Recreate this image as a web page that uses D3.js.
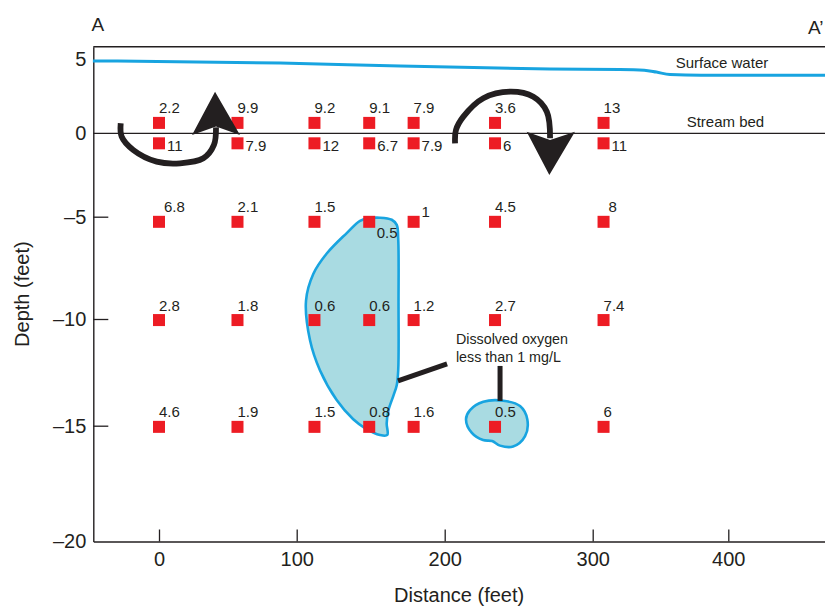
<!DOCTYPE html>
<html>
<head>
<meta charset="utf-8">
<script src="https://cdn.jsdelivr.net/npm/d3@7"></script>
<style>
  body { margin: 0; background: #fff; }
  svg { display: block; font-family: "Liberation Sans", Arial, Helvetica, sans-serif; }
</style>
</head>
<body>
<svg id="chart" width="825" height="607"></svg>
<script>
// tick labels
var distanceTicks = [0, 100, 200, 300, 400];
var depthTicks = [5, 0, -5, -10, -15, -20];

// sampling grid (feet)
var distances = [0, 57, 112, 149, 179, 234, 308];
var depths = [0.7, -0.6, -5.25, -10.05, -15.05];

// dissolved oxygen, mg/L, one row per depth
var oxygen = [
    [2.2, 9.9, 9.2, 9.1, 7.9, 3.6, 13],
    [11, 7.9, 12, 6.7, 7.9, 6, 11],
    [6.8, 2.1, 1.5, 0.5, 1, 4.5, 8],
    [2.8, 1.8, 0.6, 0.6, 1.2, 2.7, 7.4],
    [4.6, 1.9, 1.5, 0.8, 1.6, 0.5, 6]
];

// water surface profile [distance, elevation]
var surfaceWater = [[-48, 4.87], [88, 4.73], [170, 4.53], [271, 4.33], [320, 4.3], [338, 4.25],
    [347, 4.12], [357, 3.95], [380, 3.9], [472, 3.9]];

// zones with dissolved oxygen < 1 mg/L [distance, depth]
var lowOxygenZone1 = [[168.6, -6.1], [168.8, -9.2], [168.6, -12.4], [167.6, -13.1], [165.3, -13.6],
    [161.9, -14.3], [160.8, -14.9], [161.2, -15.4], [156.3, -15.4], [146.1, -15.1], [138.2, -14.7],
    [127, -13.8], [115.7, -12.4], [109, -11], [106.3, -9.1], [111.2, -7.8], [120.3, -6.8],
    [133.8, -5.8], [142.8, -5.2], [148.4, -5.08], [156.3, -5.05], [164.2, -5.15], [167.6, -5.4]];
var lowOxygenZone2 = [[214.4, -14.7], [218.2, -15.3], [225.9, -15.62], [232, -15.66], [237.4, -15.86],
    [246.2, -15.9], [254.3, -15.45], [255.8, -14.7], [250.9, -14.08], [239.6, -13.83], [226.1, -13.88],
    [217.1, -14.27]];

// flow arrows [distance, depth]
var upflowPath = [[-27.8, 0.67], [-27.1, -0.2], [-18.7, -1.0], [-1.7, -1.7], [15.3, -1.8],
    [32.2, -1.5], [39.9, -0.7], [41.4, 0.4]];
var upflowHead = [[24, -0.1], [40.7, 2.8], [58.8, -0.1], [41.4, 0.46]];
var downflowPath = [[207, -0.6], [207.6, 0.22], [212.6, 1.12], [226.1, 2.36], [244.1, 2.8],
    [259.9, 2.46], [269, 1.45], [271.2, -0.3]];
var downflowHead = [[255.4, 0.11], [270.7, -2.5], [288, 0.11], [271.2, -0.4]];

// leader lines for the note
var leaders = [
    [[168.4, -12.9], [201.6, -12.1]],
    [[237.4, -12.2], [237.4, -13.84]]
];

var ink = "#231f20";
var red = "#ed1c24";
var blue = "#18a4e0";
var paleBlue = "#a9dbe2";

var svg = d3.select("#chart");

// hand drawn axes are uneven, so the scales are piecewise
var x = d3.scaleLinear()
    .domain([-47.7, 0, 100, 200, 300, 400, 471.5])
    .range([93.3, 159, 296.7, 444.7, 592.7, 728.3, 825]);
var y = d3.scaleLinear()
    .domain([5.83, 5, 0, -5, -10, -15, -20])
    .range([46.7, 59, 133.3, 216.7, 319, 425.7, 541.5]);

var xLeft = x.range()[0], xRight = x.range()[x.range().length - 1];
var yTop = y.range()[0], yBottom = y.range()[y.range().length - 1];

var fmt = function(d) { return d < 0 ? "\u2013" + Math.abs(d) : String(d); };

// x axis
var gx = svg.append("g")
    .attr("transform", "translate(0," + yBottom + ")")
    .call(d3.axisBottom(x).tickValues(distanceTicks).tickSizeInner(-12).tickSizeOuter(0).tickPadding(10.5));

// y axis
var gy = svg.append("g")
    .attr("transform", "translate(" + xLeft + ",0)")
    .call(d3.axisLeft(y).tickValues(depthTicks).tickFormat(fmt).tickSizeInner(-15).tickSizeOuter(0).tickPadding(7));
gy.selectAll(".tick line").filter(function(d) { return d === 5 || d === 0 || d === -20; }).remove();

[gx, gy].forEach(function(g) {
    g.select(".domain").attr("stroke", ink).attr("stroke-width", 1.4);
    g.selectAll(".tick line").attr("stroke", ink).attr("stroke-width", 1.3);
    g.selectAll("text").attr("font-size", 20).attr("fill", ink).attr("font-family", null);
});

// top frame and stream bed
svg.append("line")
    .attr("x1", xLeft).attr("x2", xRight).attr("y1", yTop).attr("y2", yTop)
    .attr("stroke", ink).attr("stroke-width", 1.4);
svg.append("line")
    .attr("x1", xLeft).attr("x2", xRight).attr("y1", y(0)).attr("y2", y(0))
    .attr("stroke", ink).attr("stroke-width", 1.2);

var toXY = function(p) { return [x(p[0]), y(p[1])]; };

// surface water
svg.append("path")
    .attr("d", d3.line().curve(d3.curveMonotoneX)(surfaceWater.map(toXY)))
    .attr("fill", "none")
    .attr("stroke", blue)
    .attr("stroke-width", 3);

// low oxygen zones
var blob = d3.line().curve(d3.curveCatmullRomClosed.alpha(0.5));
svg.selectAll(".zone")
    .data([lowOxygenZone1, lowOxygenZone2])
    .join("path")
    .attr("class", "zone")
    .attr("d", function(d) { return blob(d.map(toXY)); })
    .attr("fill", paleBlue)
    .attr("stroke", blue)
    .attr("stroke-width", 2.6);

// leader lines
svg.selectAll(".leader")
    .data(leaders)
    .join("line")
    .attr("class", "leader")
    .attr("x1", function(d) { return x(d[0][0]); })
    .attr("y1", function(d) { return y(d[0][1]); })
    .attr("x2", function(d) { return x(d[1][0]); })
    .attr("y2", function(d) { return y(d[1][1]); })
    .attr("stroke", ink)
    .attr("stroke-width", 5);

// sample points
var points = [];
depths.forEach(function(dep, r) {
    distances.forEach(function(dist, c) {
        points.push({ dist: dist, dep: dep, value: oxygen[r][c], r: r, c: c });
    });
});

var size = 12;
svg.selectAll(".sample")
    .data(points)
    .join("rect")
    .attr("class", "sample")
    .attr("x", function(d) { return x(d.dist) - size / 2; })
    .attr("y", function(d) { return y(d.dep) - size / 2; })
    .attr("width", size)
    .attr("height", size)
    .attr("fill", red);

// where each reading sits relative to its square
function labelSpot(d) {
    if (d.r === 1) return [8, 7.5];
    if (d.r === 2 && d.c === 3) return [7.5, 16.5];
    if (d.r === 2 && d.c === 4) return [8, -4.5];
    if (d.r === 2 && (d.c === 0 || d.c === 6)) return [5, -9.5];
    return [0, -9.5];
}

svg.selectAll(".reading")
    .data(points)
    .join("text")
    .attr("class", "reading")
    .attr("x", function(d) { return x(d.dist) + labelSpot(d)[0]; })
    .attr("y", function(d) { return y(d.dep) + labelSpot(d)[1]; })
    .attr("font-size", 15)
    .attr("fill", ink)
    .text(function(d) { return String(d.value); });

// flow arrows
var shaft = d3.line().curve(d3.curveCatmullRom.alpha(0.5));
svg.selectAll(".shaft")
    .data([upflowPath, downflowPath])
    .join("path")
    .attr("class", "shaft")
    .attr("d", function(d) { return shaft(d.map(toXY)); })
    .attr("fill", "none")
    .attr("stroke", ink)
    .attr("stroke-width", 5.8);
svg.selectAll(".head")
    .data([upflowHead, downflowHead])
    .join("path")
    .attr("class", "head")
    .attr("d", function(d) { return d3.line()(d.map(toXY)) + "Z"; })
    .attr("fill", ink);

// text annotations
svg.append("text")
    .attr("x", x(361.2)).attr("y", y(4.37))
    .attr("font-size", 15).attr("fill", ink)
    .text("Surface water");
svg.append("text")
    .attr("x", x(369.3)).attr("y", y(0.4))
    .attr("font-size", 15).attr("fill", ink)
    .text("Stream bed");

var note = svg.append("text")
    .attr("x", x(207.6)).attr("y", y(-11.17))
    .attr("font-size", 14.3).attr("fill", ink);
note.append("tspan").attr("x", x(207.6)).text("Dissolved oxygen");
note.append("tspan").attr("x", x(207.6)).attr("dy", "1.24em").text("less than 1 mg/L");

// section labels
svg.append("text").attr("x", 91.5).attr("y", 31).attr("font-size", 19).attr("fill", ink).text("A");
svg.append("text").attr("x", 808).attr("y", 33.5).attr("font-size", 19).attr("fill", ink).text("A\u2019");

// axis titles
svg.append("text")
    .attr("x", (xLeft + xRight) / 2).attr("y", 602)
    .attr("text-anchor", "middle")
    .attr("font-size", 20).attr("fill", ink)
    .text("Distance (feet)");
svg.append("text")
    .attr("transform", "translate(22," + ((yTop + yBottom) / 2) + ") rotate(-90)")
    .attr("text-anchor", "middle")
    .attr("dy", "0.35em")
    .attr("font-size", 20).attr("fill", ink)
    .text("Depth (feet)");
</script>
</body>
</html>
